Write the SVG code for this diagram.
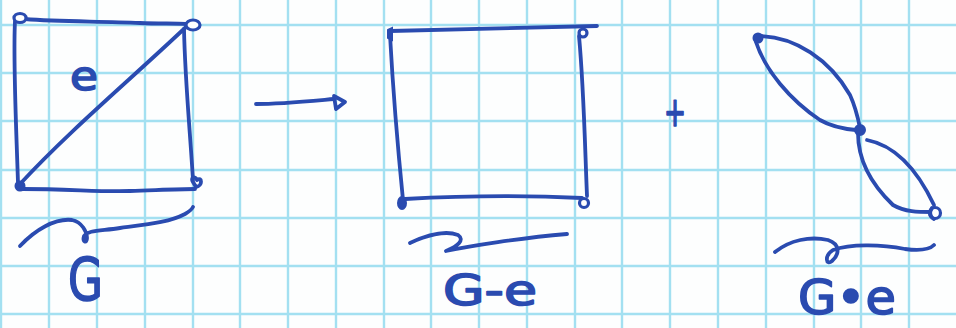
<svg xmlns="http://www.w3.org/2000/svg" width="956" height="328" viewBox="0 0 956 328">
<defs>
<style>
.grid line{stroke:#a3e0f1;stroke-width:2.4}
.ink{fill:none;stroke:#2a4bb0;stroke-width:3.8;stroke-linecap:round;stroke-linejoin:round}
.dot{fill:#2a4bb0;stroke:#2a4bb0;stroke-width:2}
.ring{fill:#fff;stroke:#2a4bb0;stroke-width:3.2}
.lbl{fill:#2a4bb0;stroke:#2a4bb0;stroke-width:1.6;stroke-linejoin:round;font-family:"DejaVu Sans",sans-serif}
</style>
</defs>
<rect width="956" height="328" fill="#fdfefe"/>
<g class="grid">
<line x1="1" y1="0" x2="1" y2="328"/><line x1="49" y1="0" x2="49" y2="328"/><line x1="97" y1="0" x2="97" y2="328"/><line x1="145" y1="0" x2="145" y2="328"/><line x1="193" y1="0" x2="193" y2="328"/><line x1="240" y1="0" x2="240" y2="328"/><line x1="288" y1="0" x2="288" y2="328"/><line x1="336" y1="0" x2="336" y2="328"/><line x1="384" y1="0" x2="384" y2="328"/><line x1="431" y1="0" x2="431" y2="328"/><line x1="479" y1="0" x2="479" y2="328"/><line x1="527" y1="0" x2="527" y2="328"/><line x1="575" y1="0" x2="575" y2="328"/><line x1="622" y1="0" x2="622" y2="328"/><line x1="670" y1="0" x2="670" y2="328"/><line x1="718" y1="0" x2="718" y2="328"/><line x1="766" y1="0" x2="766" y2="328"/><line x1="814" y1="0" x2="814" y2="328"/><line x1="861" y1="0" x2="861" y2="328"/><line x1="909" y1="0" x2="909" y2="328"/>
<line x1="0" y1="25" x2="956" y2="25"/><line x1="0" y1="73" x2="956" y2="73"/><line x1="0" y1="121" x2="956" y2="121"/><line x1="0" y1="170" x2="956" y2="170"/><line x1="0" y1="218" x2="956" y2="218"/><line x1="0" y1="266" x2="956" y2="266"/><line x1="0" y1="314" x2="956" y2="314"/>
</g>
<g id="connectors">
<path class="ink" d="M25,19 C60,22 100,21 140,23 C160,24 175,23 186,24"/>
<path class="ink" d="M15,21 C13,60 16,120 18,183"/>
<path class="ink" d="M184,29 C185,80 190,130 193,180"/>
<path class="ink" d="M22,189 C70,189 100,192 130,191 C160,190 180,189 195,189"/>
<path class="ink" d="M20,184 C70,130 130,80 186,27"/>
<path class="ink" d="M256,104 C280,104 300,102 334,99"/>
<path class="ink" d="M390,31 C450,29 520,28 597,26"/>
<path class="ink" d="M390,35 C393,90 398,150 403,200"/>
<path class="ink" d="M405,199 C460,196 520,195 582,198"/>
<path class="ink" d="M579,36 C584,90 585,150 587,196"/>
<path class="ink" d="M758,36 C795,36 830,60 850,95 C856,108 858,118 860,128"/>
<path class="ink" d="M756,42 C765,70 790,100 820,120 C832,127 845,129 856,130"/>
<path class="ink" d="M858,133 C858,160 872,185 893,205 C905,212 918,212 932,212"/>
<path class="ink" d="M867,140 C893,145 915,165 934,205"/>
</g>
<g id="arrowhead"><path class="ink" d="M334,96 L345,102 L336,109 Z"/></g>
<g id="v1"><ellipse class="ring" cx="20" cy="18" rx="6" ry="4.5"/></g>
<g id="v2"><ellipse class="ring" cx="193" cy="25" rx="7" ry="5"/></g>
<g id="v3"><circle class="dot" cx="20" cy="186" r="4.5"/></g>
<g id="v4"><path class="ink" d="M193,182 C190,178 195,175 197,180 C202,176 203,186 196,187 Z"/></g>
<g id="v5"><path class="dot" d="M388,30 L392,28 L392,40 L388,38 Z"/></g>
<g id="v6"><circle class="ring" cx="583" cy="33" r="4"/></g>
<g id="v7"><ellipse class="dot" cx="402" cy="203" rx="4" ry="6"/></g>
<g id="v8"><circle class="ring" cx="584" cy="203" r="4.5"/></g>
<g id="v9"><circle class="dot" cx="758" cy="38" r="4.5"/></g>
<g id="v10"><circle class="dot" cx="860" cy="130" r="5"/></g>
<g id="v11"><circle class="ring" cx="935" cy="213" r="5.5"/><path class="ink" d="M932,208 C929,212 930,217 934,219"/></g>
<g id="labels">
<text class="lbl" x="70" y="90" font-size="40" textLength="28" lengthAdjust="spacingAndGlyphs">e</text>
<path class="ink" d="M20,246 C35,230 55,218 72,220 C82,222 87,232 87,238 C87,244 82,242 84,236 C88,230 100,231 120,228 C150,224 170,222 185,214 C190,211 192,209 193,207"/>
<text class="lbl" x="68" y="300" font-size="58" textLength="35" lengthAdjust="spacingAndGlyphs">G</text>
<path class="ink" d="M410,243 C425,236 445,230 458,235 C465,240 458,246 446,251 C470,246 520,238 567,234"/>
<text class="lbl" x="443" y="305" font-size="42" textLength="94" lengthAdjust="spacingAndGlyphs">G-e</text>
<text class="lbl" x="664" y="126" font-size="40" textLength="22" lengthAdjust="spacingAndGlyphs">+</text>
<path class="ink" d="M775,252 C790,240 810,236 828,240 C840,244 840,254 832,261 C826,266 824,256 833,250 C850,244 880,244 905,249 C920,251 930,249 934,245"/>
<text class="lbl" x="798" y="314" font-size="48" textLength="98" lengthAdjust="spacingAndGlyphs">G•e</text>
</g>
</svg>
